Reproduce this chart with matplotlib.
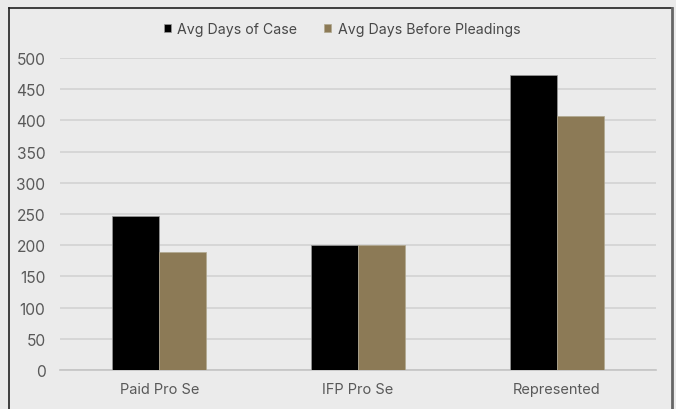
import matplotlib.pyplot as plt
import numpy as np

categories = ['Paid Pro Se', 'IFP Pro Se', 'Represented']
avg_days_case = [247, 200, 473]
avg_days_pleadings = [189, 200, 407]
series_names = ['Avg Days of Case', 'Avg Days Before Pleadings']

plt.rcParams['font.family'] = ['Inter', 'DejaVu Sans']

bg = '#ebebeb'
fig = plt.figure(figsize=(6.76, 4.10), dpi=100, facecolor=bg)
W, H = 676, 410
ax = fig.add_axes([60 / W, 1 - 371 / H, (656 - 60) / W, (371 - 59) / H])
ax.set_facecolor(bg)

# chart frame (no bottom edge visible)
fig.add_artist(plt.Line2D([9 / W, 9 / W], [0, 1 - 9 / H], color='#222222', lw=1.2,
                          transform=fig.transFigure))
fig.add_artist(plt.Line2D([9 / W, 672 / W], [1 - 9 / H, 1 - 9 / H], color='#222222', lw=1.2,
                          transform=fig.transFigure))
fig.add_artist(plt.Line2D([672 / W, 672 / W], [0, 1 - 9 / H], color='#666666', lw=2,
                          transform=fig.transFigure))

x = np.arange(len(categories))
w = 0.236
ax.bar(x - w / 2, avg_days_case, w, color='#000000', edgecolor='#9a9a9a', lw=0.5,
       label=series_names[0], zorder=3)
ax.bar(x + w / 2, avg_days_pleadings, w, color='#8c7a56', edgecolor='#b0a890', lw=0.5,
       label=series_names[1], zorder=3)

ax.set_xlim(-0.5, 2.5)
ax.set_ylim(0, 500)
ax.set_yticks(np.arange(0, 501, 50))
ax.yaxis.grid(True, color='#d2d2d2', lw=1.2)
ax.set_axisbelow(True)
for s in ['top', 'right', 'left']:
    ax.spines[s].set_visible(False)
ax.spines['bottom'].set_color('#c4c4c4')
ax.spines['bottom'].set_linewidth(1.2)
ax.set_xticks(x)
ax.set_xticklabels(categories)
ax.tick_params(axis='both', length=0, colors='#595959')
ax.tick_params(axis='x', labelsize=10.5, pad=9)
ax.tick_params(axis='y', labelsize=11.2, pad=10.5)

ax.legend(loc='center', bbox_to_anchor=(0.5 + 4 / W, (410 - 30) / H), bbox_transform=fig.transFigure,
          ncol=2, frameon=False, fontsize=10.2, labelcolor='#484848',
          handlelength=0.5, handleheight=0.5, handletextpad=0.45, columnspacing=1.9)

fig.savefig('out.png', dpi=100, facecolor=bg)
